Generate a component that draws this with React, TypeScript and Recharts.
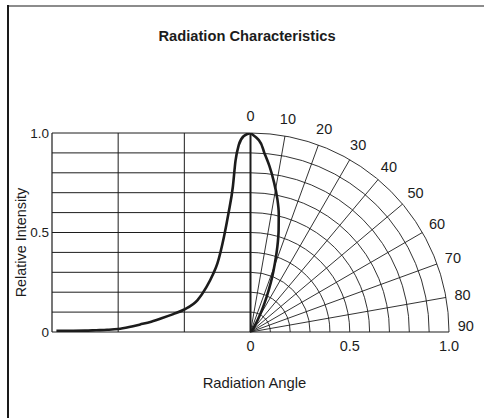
import {
  ComposedChart,
  Label,
  Line,
  ReferenceDot,
  ReferenceLine,
  XAxis,
  YAxis,
} from "recharts";

// left half: relative intensity against angle (deg), rectangular plot
const leftAngles = [-88, -75, -70, -65, -60, -55, -50, -45, -40, -35, -30, -24, -20, -17, -15, -12, -10, -8, -6.8, -5.3, -3, 0];
const leftIntensity = [0.006, 0.007, 0.009, 0.011, 0.015, 0.025, 0.038, 0.052, 0.07, 0.09, 0.113, 0.16, 0.225, 0.29, 0.345, 0.48, 0.595, 0.73, 0.86, 0.94, 0.985, 1.0];

// right half: the same pattern on the polar quarter (angle deg, intensity)
const polarAngles = [0, 2.5, 4.5, 6.5, 9, 11.5, 13.5, 15.5, 17.5, 19.5, 21.5, 23.5, 26, 29, 33, 40, 45];
const polarIntensity = [1.0, 0.965, 0.9, 0.84, 0.76, 0.68, 0.61, 0.53, 0.45, 0.37, 0.3, 0.23, 0.16, 0.1, 0.05, 0.015, 0];

const gridLevels = [0.1, 0.2, 0.3, 0.4, 0.5, 0.6, 0.7, 0.8, 0.9, 1.0];
const leftVerticals = [-60, -30];
const spokeAngles = [10, 20, 30, 40, 50, 60, 70, 80];
const angleLabels = [0, 10, 20, 30, 40, 50, 60, 70, 80, 90];
const valueTicks = [0, 0.5, 1];

const INK = "#1c1c1c";
const FONT = '"Liberation Sans", Arial, Helvetica, sans-serif';
const LABEL_R = 1.085;

const rad = (d: number) => (d * Math.PI) / 180;
const fmt = (v: number) => (v === 0 ? "0" : v.toFixed(1));

const leftData = leftAngles.map((deg, i) => ({ deg, v: leftIntensity[i] }));
const polarData = polarAngles.map((a, i) => ({
  x: polarIntensity[i] * Math.sin(rad(a)),
  y: polarIntensity[i] * Math.cos(rad(a)),
}));

// quarter arc: segment goes from (0, r) to (r, 0), centre sits at (x1, y2)
function QuarterArc(props: any) {
  const { x1, y1, x2, y2, stroke, strokeWidth } = props;
  return (
    <path
      d={`M${x1},${y1} A${x2 - x1},${y2 - y1} 0 0 1 ${x2},${y2}`}
      fill="none"
      stroke={stroke}
      strokeWidth={strokeWidth}
    />
  );
}

export default function App() {
  return (
    <div
      style={{
        position: "absolute",
        left: 0,
        top: 0,
        width: 484,
        height: 418,
        background: "#fff",
        fontFamily: FONT,
      }}
    >
      <div style={{ position: "absolute", left: 7, top: 5, right: 0, borderTop: "2px solid #8c8c8c" }} />
      <div style={{ position: "absolute", left: 7, top: 5, bottom: 0, borderLeft: "2px solid #1a1a1a" }} />
      <div
        style={{
          position: "absolute",
          left: 5,
          width: 484,
          top: 28,
          textAlign: "center",
          fontWeight: 700,
          fontSize: 14.7,
          color: INK,
        }}
      >
        Radiation Characteristics
      </div>
      <div style={{ position: "absolute", left: 0, top: 0 }}>
        <ComposedChart
          width={484}
          height={418}
          margin={{ top: 133, right: 35, bottom: 26, left: 12 }}
        >
          <XAxis
            xAxisId="r"
            dataKey="x"
            type="number"
            domain={[-1, 1]}
            allowDataOverflow
            ticks={valueTicks}
            tickFormatter={fmt}
            tick={{ fill: INK, fontSize: 14.5, fontFamily: FONT }}
            tickLine={false}
            tickSize={0}
            tickMargin={9}
            height={60}
            axisLine={{ stroke: INK, strokeWidth: 1.2 }}
          >
            <Label
              content={({ viewBox }: any) => (
                <text
                  x={viewBox.x + viewBox.width / 2 + 4}
                  y={viewBox.y + 56}
                  textAnchor="middle"
                  fill={INK}
                  fontSize={14.8}
                  fontFamily={FONT}
                >
                  Radiation Angle
                </text>
              )}
            />
          </XAxis>
          <XAxis xAxisId="deg" dataKey="deg" type="number" domain={[-90, 90]} allowDataOverflow hide height={0} />
          <YAxis
            type="number"
            domain={[0, 1]}
            allowDataOverflow
            ticks={valueTicks}
            tickFormatter={fmt}
            tick={{ fill: INK, fontSize: 13.5, fontFamily: FONT }}
            tickLine={false}
            tickSize={0}
            tickMargin={3}
            width={40}
            axisLine={{ stroke: INK, strokeWidth: 1.2 }}
          >
            <Label
              content={({ viewBox }: any) => {
                const x = 21;
                const y = viewBox.y + viewBox.height / 2 + 10;
                return (
                  <text
                    x={x}
                    y={y}
                    transform={`rotate(-90, ${x}, ${y})`}
                    textAnchor="middle"
                    dominantBaseline="central"
                    fill={INK}
                    fontSize={14.4}
                    fontFamily={FONT}
                  >
                    Relative Intensity
                  </text>
                );
              }}
            />
          </YAxis>

          {/* rectangular grid on the left */}
          {gridLevels.map((lv) => (
            <ReferenceLine
              key={`h${lv}`}
              xAxisId="deg"
              segment={[
                { x: -90, y: lv },
                { x: 0, y: lv },
              ]}
              stroke={INK}
              strokeWidth={1}
            />
          ))}
          {leftVerticals.map((d) => (
            <ReferenceLine key={`v${d}`} xAxisId="deg" x={d} stroke={INK} strokeWidth={1} />
          ))}

          {/* polar quarter on the right */}
          {gridLevels.map((lv) => (
            <ReferenceLine
              key={`a${lv}`}
              xAxisId="r"
              segment={[
                { x: 0, y: lv },
                { x: lv, y: 0 },
              ]}
              stroke={INK}
              strokeWidth={0.9}
              shape={QuarterArc}
            />
          ))}
          {spokeAngles.map((a) => (
            <ReferenceLine
              key={`s${a}`}
              xAxisId="r"
              segment={[
                { x: 0, y: 0 },
                { x: Math.sin(rad(a)), y: Math.cos(rad(a)) },
              ]}
              stroke={INK}
              strokeWidth={0.9}
            />
          ))}
          <ReferenceLine xAxisId="deg" x={0} stroke={INK} strokeWidth={2} />
          {angleLabels.map((a) => (
            <ReferenceDot
              key={`l${a}`}
              xAxisId="r"
              x={LABEL_R * Math.sin(rad(a))}
              y={LABEL_R * Math.cos(rad(a))}
              ifOverflow="visible"
              r={0}
              shape={(p: any) => (
                <text
                  x={p.cx}
                  y={a === 90 ? p.cy - 6 : p.cy}
                  textAnchor="middle"
                  dominantBaseline="central"
                  fill={INK}
                  fontSize={14.5}
                  fontFamily={FONT}
                >
                  {a}
                </text>
              )}
            />
          ))}

          <Line
            xAxisId="deg"
            data={leftData}
            dataKey="v"
            type="monotone"
            stroke={INK}
            strokeWidth={2.6}
            dot={false}
            isAnimationActive={false}
          />
          <Line
            xAxisId="r"
            data={polarData}
            dataKey="y"
            type="monotoneY"
            stroke={INK}
            strokeWidth={2.6}
            dot={false}
            isAnimationActive={false}
          />
        </ComposedChart>
      </div>
    </div>
  );
}
